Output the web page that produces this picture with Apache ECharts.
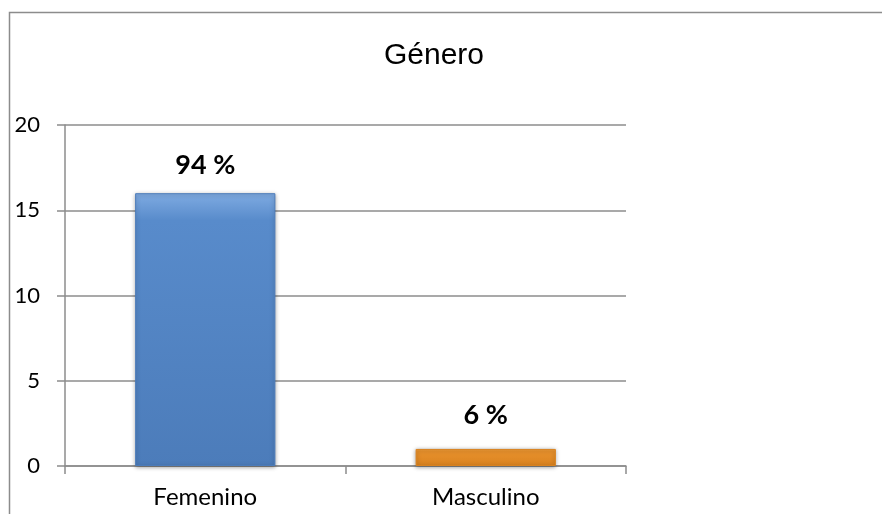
<!DOCTYPE html>
<html><head><meta charset="utf-8">
<script src="https://cdn.jsdelivr.net/npm/echarts@6/dist/echarts.min.js"></script>
<style>html,body{margin:0;padding:0;background:#fff}#c{width:882px;height:514px}</style>
</head><body><div id="c"></div>
<script>
const categories = ['Femenino', 'Masculino'];
const values = [16, 1];
const percentLabels = ['94 %', '6 %'];
const yTicks = [0, 5, 10, 15, 20];

const barColors = [
  ['#7fabe2', '#588bcb', '#4c7cba'],
  ['#f7b65e', '#e9922d', '#d9821f']
];
const labelGaps = [14, 20];

const chart = echarts.init(document.getElementById('c'));
chart.setOption({
  animation: false,
  backgroundColor: '#fff',
  graphic: [{
    type: 'rect', shape: {x: 9.5, y: 12.5, width: 900, height: 520},
    style: {fill: 'none', stroke: '#8c8c8c', lineWidth: 1.5}, silent: true, z: -1
  }],
  title: {
    text: 'Género', left: 429, top: 36, textAlign: 'center',
    textStyle: {fontFamily: 'Liberation Sans', fontSize: 30, fontWeight: 'normal', color: '#000'}
  },
  grid: {left: 65, top: 125, right: 256, bottom: 48},
  xAxis: {
    type: 'category', data: categories,
    axisLine: {lineStyle: {color: '#8c8c8c', width: 1.5}},
    axisTick: {show: true, length: 8, alignWithLabel: false, lineStyle: {color: '#8c8c8c', width: 1.5}},
    axisLabel: {fontFamily: 'Lato', fontSize: 24, color: '#000', margin: 19}
  },
  yAxis: {
    type: 'value', min: yTicks[0], max: yTicks[yTicks.length - 1], interval: 5,
    axisLine: {show: true, lineStyle: {color: '#8c8c8c', width: 1.5}},
    axisTick: {show: true, length: 8, inside: false, lineStyle: {color: '#8c8c8c', width: 1.5}},
    splitLine: {lineStyle: {color: '#8c8c8c', width: 1.5}},
    axisLabel: {fontFamily: 'Lato', fontSize: 22, color: '#000', margin: 25, align: 'right'}
  },
  series: [{
    type: 'bar', barWidth: '50%',
    data: values.map((v, i) => ({
      value: v,
      itemStyle: {
        color: new echarts.graphic.LinearGradient(0, 0, 0, 1, [
          {offset: 0, color: barColors[i][0]},
          {offset: 0.1, color: barColors[i][1]},
          {offset: 1, color: barColors[i][2]}
        ]),
        borderColor: barColors[i][2], borderWidth: 1,
        shadowColor: 'rgba(0,0,0,0.35)', shadowBlur: 4, shadowOffsetY: 1
      },
      label: {formatter: percentLabels[i], distance: labelGaps[i]}
    })),
    label: {
      show: true, position: 'top',
      fontFamily: 'Lato', fontWeight: 'bold', fontSize: 27, color: '#000'
    }
  }]
});
</script></body></html>
